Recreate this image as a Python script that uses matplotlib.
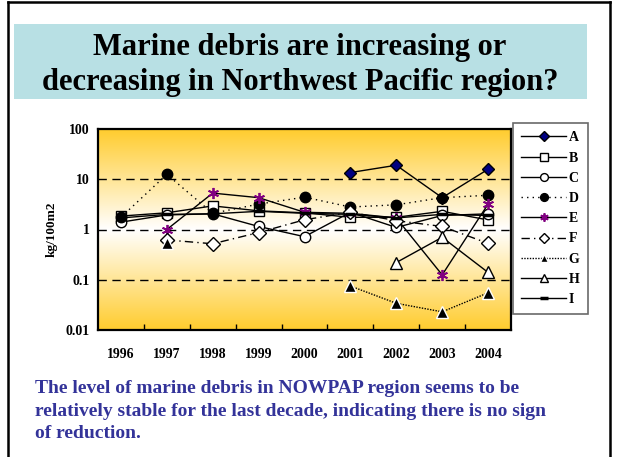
import numpy as np
import matplotlib
matplotlib.use('Agg')
from matplotlib import pyplot as plt
from matplotlib.patches import Rectangle
from matplotlib.lines import Line2D

nan = np.nan

# values (kg/100m2)
years = ['1996', '1997', '1998', '1999', '2000', '2001', '2002', '2003', '2004']
series_a = [nan, nan, nan, nan, nan, 13.6, 19.0, 4.3, 15.8]
series_b = [1.85, 2.15, 2.95, 2.35, 2.15, 1.75, 1.75, 2.3, 1.55]
series_c = [1.4, 1.95, 2.05, 1.15, 0.72, 2.2, 1.1, 1.9, 2.05]
series_d = [1.75, 12.5, 2.1, 3.2, 4.4, 2.8, 3.1, 4.3, 4.8]
series_e = [nan, 1.0, 5.3, 4.3, 2.2, 2.1, 1.7, 0.125, 3.2]
series_f = [nan, 0.62, 0.52, 0.87, 1.56, 2.2, 1.5, 1.15, 0.53]
series_g = [nan, 0.55, nan, nan, nan, 0.075, 0.034, 0.023, 0.055]
series_h = [nan, nan, nan, nan, nan, nan, 0.22, 0.7, 0.14]
series_i = [1.7, 2.0, 2.05, 2.3, 2.1, 2.0, 1.7, 2.0, 1.9]

title = 'Marine debris are increasing or\ndecreasing in Northwest Pacific region?'
note = ('The level of marine debris in NOWPAP region seems to be\n'
        'relatively stable for the last decade, indicating there is no sign\n'
        'of reduction.')

SERIF = 'Liberation Serif'
W, H = 619, 457

fig = plt.figure(figsize=(W / 100, H / 100), dpi=100)
fig.patch.set_facecolor('white')

# slide frame
fig.add_artist(Line2D([8 / W, 8 / W], [0, 1 - 2 / H], color='black', lw=1.8))
fig.add_artist(Line2D([610 / W, 610 / W], [0, 1 - 2 / H], color='black', lw=1.8))
fig.add_artist(Line2D([8 / W, 610 / W], [1 - 2 / H, 1 - 2 / H], color='black', lw=1.8))

# title box
fig.add_artist(Rectangle((14 / W, 1 - 99 / H), (587 - 14) / W, (99 - 24) / H,
                         transform=fig.transFigure, facecolor='#b8e0e4',
                         edgecolor='none', zorder=0))
fig.text(300 / W, 1 - 65 / H, title, ha='center', va='center', fontsize=22,
         family=SERIF, weight='bold', linespacing=1.3)

fig.text(35 / W, 1 - 411 / H, note, ha='left', va='center', fontsize=14,
         family=SERIF, weight='bold', color='#333399', linespacing=1.4)

ax = fig.add_axes([98 / W, 1 - 330 / H, (511 - 98) / W, (330 - 129) / H])
x = np.arange(len(years))

# yellow-white-yellow gradient background
t = np.abs(np.linspace(0, 1, 256) - 0.5) * 2
yellow = np.array([1.0, 0.80, 0.18])
white = np.array([1.0, 1.0, 1.0])
grad = white[None, :] * (1 - t[:, None]) + yellow[None, :] * t[:, None]
ax.imshow(grad[:, None, :], extent=[0, 1, 0, 1], transform=ax.transAxes,
          aspect='auto', zorder=0)

ax.set_yscale('log')
ax.set_ylim(0.01, 100)
ax.set_xlim(-0.5, len(years) - 0.5)

for v in [0.1, 1, 10]:
    ax.axhline(v, color='black', lw=1.0, ls=(0, (6, 4)), zorder=1)

common = dict(color='black', lw=1.0, zorder=3)
ax.plot(x, series_a, marker='D', markerfacecolor='#000080', markeredgecolor='black',
        markersize=6.5, **common, label='A')
ax.plot(x, series_b, marker='s', markerfacecolor='white', markeredgecolor='black',
        markersize=7, **common, label='B')
ax.plot(x, series_c, marker='o', markerfacecolor='white', markeredgecolor='black',
        markersize=7.5, **common, label='C')
ax.plot(x, series_d, marker='o', markerfacecolor='black', markeredgecolor='black',
        markersize=7.5, ls=(0, (1, 3)), **common, label='D')
ax.plot(x, series_e, marker=(6, 2, 0), markeredgecolor='#800080', markerfacecolor='#800080',
        markeredgewidth=1.3, markersize=8, **common, label='E')
ax.plot(x, series_f, marker='D', markerfacecolor='white', markeredgecolor='black',
        markersize=7, ls=(0, (6, 3, 1, 3)), **common, label='F')
ax.plot(x, series_g, marker='^', markerfacecolor='black', markeredgecolor='white',
        markersize=8, ls=(0, (1, 1)), **common, label='G')
ax.plot(x, series_h, marker='^', markerfacecolor='white', markeredgecolor='black',
        markersize=8, **common, label='H')
ax.plot(x, series_i, marker='_', markeredgecolor='black', markeredgewidth=2.5,
        markersize=7, **common, label='I')

ax.set_xticks(x)
ax.set_xticklabels(years)
ax.set_xticks(x[:-1] + 0.5, minor=True)
ax.tick_params(axis='x', which='major', length=0, pad=13)
ax.tick_params(axis='x', which='minor', direction='in', length=4, width=1)
ax.set_yticks([0.01, 0.1, 1, 10, 100])
ax.set_yticklabels(['0.01', '0.1', '1', '10', '100'])
ax.yaxis.set_minor_locator(matplotlib.ticker.NullLocator())
ax.tick_params(axis='y', length=0, pad=6)
for lab in ax.get_xticklabels() + ax.get_yticklabels():
    lab.set_family(SERIF)
    lab.set_weight('bold')
    lab.set_fontsize(10)
for sp in ax.spines.values():
    sp.set_linewidth(1.6)
    sp.set_zorder(4)

ax.set_ylabel('kg/100m2', family=SERIF, weight='bold', fontsize=9.5, labelpad=6)

leg = ax.legend(loc='upper left', bbox_to_anchor=(513 / W, 1 - 123 / H),
                bbox_transform=fig.transFigure, prop={'family': SERIF, 'weight': 'bold', 'size': 10},
                handlelength=3.2, handletextpad=0.2, labelspacing=0.52, borderpad=0.6,
                borderaxespad=0, fancybox=False, frameon=True, markerscale=0.75)
leg.get_frame().set_edgecolor('#444444')
leg.get_frame().set_linewidth(1.2)

fig.savefig('out.png', dpi=100)
